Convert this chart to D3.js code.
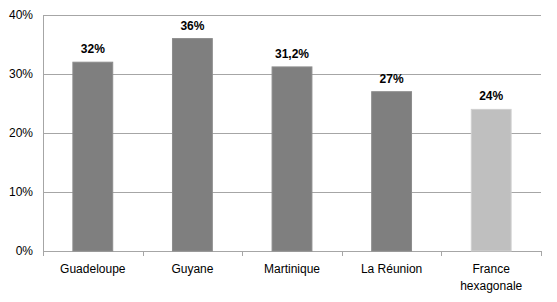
<!DOCTYPE html>
<html>
<head>
<meta charset="utf-8">
<script src="https://cdn.jsdelivr.net/npm/d3@7"></script>
<style>
body { margin: 0; background: #fff; }
svg { display: block; font-family: "Liberation Sans", Arial, sans-serif; }
</style>
</head>
<body>
<div id="chart"></div>
<script>
var categories = ["Guadeloupe", "Guyane", "Martinique", "La Réunion", "France hexagonale"];
var values = [32, 36, 31.2, 27, 24];
var valueLabels = ["32%", "36%", "31,2%", "27%", "24%"];
var yTicks = [0, 10, 20, 30, 40];

var width = 557, height = 302;
var margin = {top: 15, right: 16, bottom: 51, left: 43};

var svg = d3.select('#chart')
    .append('svg')
    .attr('width', width)
    .attr('height', height);

var g = svg.append('g')
    .attr('transform', 'translate(' + margin.left + ',' + margin.top + ')');

var w = width - margin.left - margin.right,
    h = height - margin.top - margin.bottom;

var x = d3.scaleBand().domain(categories).range([0, w]).paddingInner(0.6).paddingOuter(0.3);
var y = d3.scaleLinear().domain([0, 40]).range([h, 0]);
var step = w / categories.length;

// gridlines
g.selectAll('.grid')
    .data(yTicks)
    .enter().append('line')
    .attr('x1', 0).attr('x2', w)
    .attr('y1', function(d) { return Math.round(y(d)) + 0.5; })
    .attr('y2', function(d) { return Math.round(y(d)) + 0.5; })
    .style('stroke', '#a6a6a6')
    .style('stroke-width', 1);

// y axis labels
g.selectAll('.ylab')
    .data(yTicks)
    .enter().append('text')
    .attr('x', -10)
    .attr('y', function(d) { return y(d) + 4; })
    .attr('text-anchor', 'end')
    .style('font-size', '12px')
    .style('fill', '#000')
    .text(function(d) { return d + '%'; });

// y axis line
g.append('line')
    .attr('x1', 0.5).attr('x2', 0.5)
    .attr('y1', 0).attr('y2', h)
    .style('stroke', '#a6a6a6');

// x ticks
g.selectAll('.xtick')
    .data(d3.range(categories.length + 1))
    .enter().append('line')
    .attr('x1', function(i) { return Math.round(i * step) + 0.5; })
    .attr('x2', function(i) { return Math.round(i * step) + 0.5; })
    .attr('y1', h).attr('y2', h + 5)
    .style('stroke', '#a6a6a6');

// bars
g.selectAll('.bar')
    .data(values)
    .enter().append('rect')
    .attr('x', function(d, i) { return x(categories[i]); })
    .attr('y', function(d) { return y(d); })
    .attr('width', x.bandwidth())
    .attr('height', function(d) { return h - y(d); })
    .style('fill', function(d, i) { return i === 4 ? '#bfbfbf' : '#7f7f7f'; })
    .style('stroke', function(d, i) { return i === 4 ? '#d0d0d0' : '#8c8c8c'; })
    .style('stroke-width', 1);

// value labels
g.selectAll('.vlab')
    .data(values)
    .enter().append('text')
    .attr('x', function(d, i) { return x(categories[i]) + x.bandwidth() / 2; })
    .attr('y', function(d) { return y(d) - 9; })
    .attr('text-anchor', 'middle')
    .style('font-size', '12px')
    .style('font-weight', 'bold')
    .text(function(d, i) { return valueLabels[i]; });

// category labels
var xl = g.selectAll('.xlab')
    .data(categories)
    .enter().append('text')
    .attr('text-anchor', 'middle')
    .attr('transform', function(d) { return 'translate(' + (x(d) + x.bandwidth() / 2) + ',' + (h + 22) + ')'; })
    .style('font-size', '12px');

xl.each(function(d) {
    var t = d3.select(this);
    var parts = d === "France hexagonale" ? ["France", "hexagonale"] : [d];
    parts.forEach(function(p, k) {
        t.append('tspan').attr('x', 0).attr('dy', k === 0 ? 0 : 17).text(p);
    });
});
</script>
</body>
</html>
